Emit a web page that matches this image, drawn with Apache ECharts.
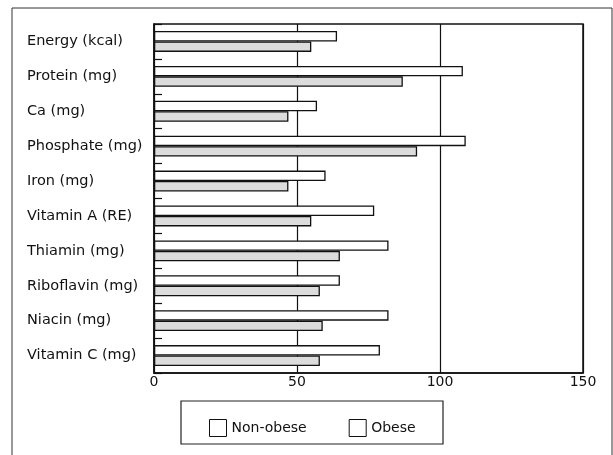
<!DOCTYPE html>
<html><head><meta charset="utf-8">
<script src="https://cdn.jsdelivr.net/npm/echarts@6/dist/echarts.min.js"></script>
<style>html,body{margin:0;padding:0;background:#fff}#c{width:613px;height:455px}</style>
</head><body><div id="c"></div>
<script>
var categories = ['Energy (kcal)','Protein (mg)','Ca (mg)','Phosphate (mg)','Iron (mg)','Vitamin A (RE)','Thiamin (mg)','Riboflavin (mg)','Niacin (mg)','Vitamin C (mg)'];
var nonObese = [64, 108, 57, 109, 60, 77, 82, 65, 82, 79];
var obese = [55, 87, 47, 92, 47, 55, 65, 58, 59, 58];
var xTicks = [0, 50, 100, 150];

var font = 'DejaVu Sans';
var chart = echarts.init(document.getElementById('c'));
chart.setOption({
  animation: false,
  backgroundColor: '#fff',
  grid: { left: 154, top: 24, right: 30, bottom: 82, show: true, borderColor: '#111', borderWidth: 1.5, containLabel: false },
  xAxis: {
    type: 'value', min: 0, max: 150, interval: 50,
    axisLine: { show: true, lineStyle: { color: '#111', width: 1.5 } },
    axisTick: { show: false },
    splitLine: { show: true, lineStyle: { color: '#111', width: 1.2 } },
    axisLabel: { color: '#111', fontFamily: font, fontSize: 14, margin: 2,
      formatter: function (v) { return xTicks.indexOf(v) >= 0 ? String(v) : ''; } }
  },
  yAxis: {
    type: 'category', data: categories, inverse: true,
    axisLine: { show: true, lineStyle: { color: '#111', width: 1.5 } },
    axisTick: { show: true, inside: true, length: 8, lineStyle: { color: '#111', width: 1.2 } },
    axisLabel: { color: '#111', fontFamily: font, fontSize: 14.5, align: 'left', margin: 127 }
  },
  legend: {
    left: 204, top: 414, itemWidth: 17, itemHeight: 17, itemGap: 42, itemTextGap: 6,
    icon: 'rect',
    textStyle: { color: '#111', fontFamily: font, fontSize: 14 },
    data: [
      { name: 'Non-obese', itemStyle: { color: '#fff', borderColor: '#111', borderWidth: 1 } },
      { name: 'Obese', itemStyle: { color: '#fff', borderColor: '#111', borderWidth: 1 } }
    ]
  },
  graphic: [
    { type: 'rect', shape: { x: 12, y: 8, width: 600, height: 470 }, style: { fill: null, stroke: '#333', lineWidth: 1 }, z: -1 },
    { type: 'rect', shape: { x: 181, y: 401, width: 262, height: 43 }, style: { fill: null, stroke: '#222', lineWidth: 1.2 } }
  ],
  series: [
    { name: 'Non-obese', type: 'bar', data: nonObese, barGap: '0%', barCategoryGap: '40%',
      itemStyle: { color: '#fff', borderColor: '#111', borderWidth: 1.3 } },
    { name: 'Obese', type: 'bar', data: obese,
      itemStyle: { color: '#dcdcdc', borderColor: '#111', borderWidth: 1.3 } }
  ]
});
</script></body></html>
